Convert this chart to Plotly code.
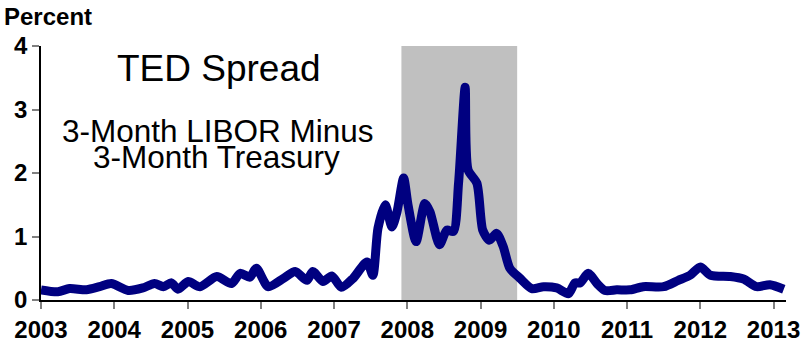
import plotly.graph_objects as go

# Decimal-year dates and TED spread values (percent)
dates = [2003.0, 2003.23, 2003.39, 2003.62, 2003.80, 2003.96, 2004.19, 2004.39, 2004.55, 2004.67,
         2004.78, 2004.87, 2005.01, 2005.17, 2005.40, 2005.60, 2005.72, 2005.85, 2005.94, 2006.10,
         2006.31, 2006.47, 2006.63, 2006.71, 2006.85, 2006.97, 2007.10, 2007.26, 2007.45, 2007.53,
         2007.60, 2007.70, 2007.79, 2007.86, 2007.95, 2008.01, 2008.12, 2008.24, 2008.31, 2008.44,
         2008.54, 2008.63, 2008.70, 2008.79, 2008.83, 2008.95, 2009.03, 2009.12, 2009.22, 2009.31,
         2009.40, 2009.54, 2009.70, 2009.86, 2010.04, 2010.20, 2010.29, 2010.36, 2010.47, 2010.59,
         2010.70, 2010.86, 2011.04, 2011.22, 2011.50, 2011.70, 2011.86, 2012.00, 2012.14, 2012.41,
         2012.59, 2012.77, 2012.95, 2013.14]
ted = [0.16, 0.13, 0.18, 0.16, 0.21, 0.26, 0.15, 0.19, 0.26, 0.21,
       0.27, 0.17, 0.29, 0.21, 0.37, 0.26, 0.42, 0.36, 0.50, 0.21,
       0.34, 0.45, 0.31, 0.45, 0.29, 0.38, 0.20, 0.34, 0.60, 0.39,
       1.13, 1.50, 1.15, 1.39, 1.92, 1.50, 0.92, 1.52, 1.39, 0.87,
       1.10, 1.08, 1.84, 3.35, 2.05, 1.84, 1.10, 0.94, 1.05, 0.84,
       0.50, 0.34, 0.18, 0.21, 0.19, 0.10, 0.27, 0.27, 0.42, 0.26,
       0.15, 0.16, 0.16, 0.21, 0.21, 0.31, 0.39, 0.52, 0.39, 0.37,
       0.33, 0.21, 0.24, 0.17]

recession = [2007.92, 2009.50]
year_ticks = list(range(2003, 2014))
year_labels = [str(y) for y in year_ticks]
pct_ticks = [0, 1, 2, 3, 4]

FONT = "Liberation Sans, Arial, sans-serif"

fig = go.Figure()
fig.add_shape(type="rect", xref="x", yref="y",
              x0=recession[0], x1=recession[1], y0=0, y1=4,
              fillcolor="#C0C0C0", line=dict(width=0), layer="below")

fig.add_trace(go.Scatter(
    x=dates, y=ted, mode="lines",
    line=dict(color="#000080", width=9, shape="spline", smoothing=0.7),
    hoverinfo="skip", showlegend=False,
))

fig.update_layout(
    width=805, height=345,
    margin=dict(l=41, r=19, t=46, b=45),
    paper_bgcolor="white", plot_bgcolor="white",
    font=dict(family=FONT, color="black"),
    annotations=[
        dict(x=0.239, xref="paper", y=0.910, yref="paper", xanchor="center", yanchor="middle",
             text="TED Spread", showarrow=False,
             font=dict(size=37, color="black", family=FONT)),
        dict(x=0.238, xref="paper", y=0.667, yref="paper", xanchor="center", yanchor="middle",
             text="3-Month LIBOR Minus", showarrow=False,
             font=dict(size=31.5, color="black", family=FONT)),
        dict(x=0.235, xref="paper", y=0.562, yref="paper", xanchor="center", yanchor="middle",
             text="3-Month Treasury", showarrow=False,
             font=dict(size=31.5, color="black", family=FONT)),
        dict(x=-0.052, xref="paper", y=1.118, yref="paper", xanchor="left", yanchor="middle",
             text="<b>Percent</b>", showarrow=False,
             font=dict(size=24, color="black", family=FONT)),
    ],
    xaxis=dict(range=[2003, 2013.17], tickvals=year_ticks,
               ticktext=["<b>%s</b>" % t for t in year_labels],
               showgrid=False, zeroline=False, showline=True, linecolor="black", linewidth=1.5,
               ticks="outside", ticklen=7, tickcolor="#808080", tickwidth=1.5,
               automargin=False,
               tickfont=dict(size=24, family=FONT, color="black")),
    yaxis=dict(range=[0, 4], tickvals=pct_ticks, ticktext=["<b>%d</b>" % t for t in pct_ticks],
               showgrid=False, zeroline=False, showline=True, linecolor="black", linewidth=1.5,
               ticks="outside", ticklen=7, tickcolor="#808080", tickwidth=1.5,
               automargin=False,
               tickfont=dict(size=24, family=FONT, color="black")),
)

fig.write_html("out.html", config={"displayModeBar": False},
               post_script="document.body.style.margin='0';document.body.style.padding='0';")
